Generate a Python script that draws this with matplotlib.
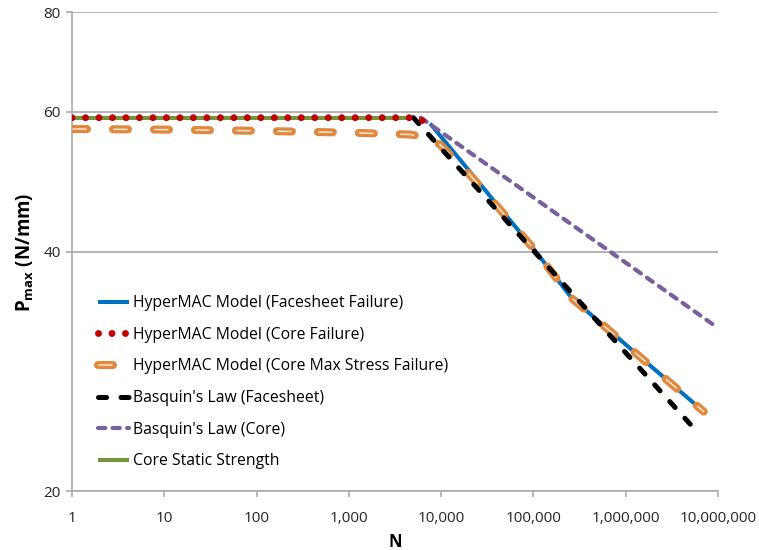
import matplotlib
matplotlib.use("Agg")
import matplotlib.pyplot as plt
from matplotlib.ticker import FixedLocator, FuncFormatter, NullLocator

plt.rcParams['font.family'] = ['Open Sans', 'DejaVu Sans']
plt.rcParams['lines.scale_dashes'] = False
plt.rcParams['mathtext.fontset'] = 'custom'
plt.rcParams['mathtext.rm'] = 'Open Sans'
plt.rcParams['mathtext.bf'] = 'Open Sans:bold'

# cycles N and max load P (N/mm) for each curve
face_N = [7600, 1.0e5, 2.6e5, 7.0e6]
face_P = [58.0, 40.4, 35.0, 25.2]

core_N = [1, 5000, 7600]
core_P = [59.0, 59.0, 58.1]

core_max_N = [1, 10, 100, 1000, 4600, 6700, 9700, 20500, 38300, 1.0e5, 2.6e5, 7.0e6]
core_max_P = [57.1, 57.0, 56.8, 56.5, 56.2, 55.8, 54.6, 50.0, 46.0, 40.4, 35.0, 25.2]

basq_face_N = [5000, 5.0e6]
basq_face_P = [59.0, 24.3]

basq_core_N = [6000, 1.0e7]
basq_core_P = [59.0, 32.1]

static_N = [1, 4600]
static_P = [59.0, 59.0]

x_ticks = [1, 10, 100, 1000, 1e4, 1e5, 1e6, 1e7]
y_ticks = [20, 40, 60, 80]

labels = ["HyperMAC Model (Facesheet Failure)",
          "HyperMAC Model (Core Failure)",
          "HyperMAC Model (Core Max Stress Failure)",
          "Basquin's Law (Facesheet)",
          "Basquin's Law (Core)",
          "Core Static Strength"]

fig = plt.figure(figsize=(7.59, 5.5), dpi=100)
ax = fig.add_axes([0.0949, 0.1064, 0.8511, 0.8709])
ax.set_xscale('log')
ax.set_yscale('log')

l_static, = ax.plot(static_N, static_P, color='#77933C', lw=2.9,
                    solid_capstyle='butt', zorder=2)
l_face, = ax.plot(face_N, face_P, color='#0070C0', lw=2.9,
                  solid_capstyle='butt', zorder=3)
# orange dashes with a pale stripe down the middle
l_cmax = ax.plot(core_max_N, core_max_P, color='#E0893E', lw=5.8,
                 linestyle=(0, (10.8, 18.7)), dash_capstyle='round', zorder=4)[0]
l_cmax_in = ax.plot(core_max_N, core_max_P, color='#FCE6D4', lw=1.1,
                    linestyle=(28.85, (9.5, 20.0)), dash_capstyle='round',
                    zorder=4.1)[0]
l_bface, = ax.plot(basq_face_N, basq_face_P, color='black', lw=3.6,
                   linestyle=(0, (5.8, 10.4)), dash_capstyle='round', zorder=5)
l_bcore, = ax.plot(basq_core_N, basq_core_P, color='#7B5E9E', lw=3.0,
                   linestyle=(0, (5.2, 5.3)), dash_capstyle='round', zorder=5)
l_core, = ax.plot(core_N, core_P, color='#C00000', lw=5.0,
                  linestyle=(0, (0.01, 9.7)), dash_capstyle='round', zorder=6)

ax.set_xlim(1, 1e7)
ax.set_ylim(20, 80)

ax.xaxis.set_major_locator(FixedLocator(x_ticks))
ax.xaxis.set_major_formatter(FuncFormatter(lambda v, p: '{:,.0f}'.format(v)))
ax.xaxis.set_minor_locator(NullLocator())
ax.yaxis.set_major_locator(FixedLocator(y_ticks))
ax.yaxis.set_major_formatter(FuncFormatter(lambda v, p: '{:.0f}'.format(v)))
ax.yaxis.set_minor_locator(NullLocator())

ax.yaxis.grid(True, color='#B3B3B3', lw=1.4)
ax.set_axisbelow(True)
for s in ['top', 'right']:
    ax.spines[s].set_visible(False)
for s in ['left', 'bottom']:
    ax.spines[s].set_color('#A6A6A6')
    ax.spines[s].set_linewidth(1.1)

ax.tick_params(axis='both', direction='out', length=4.3, width=1.1,
               color='#A6A6A6', labelsize=11, labelcolor='#262626')
ax.tick_params(axis='x', pad=10)
ax.tick_params(axis='y', pad=4)

ax.set_xlabel('N', fontsize=12, fontweight='bold')
ax.xaxis.set_label_coords(0.5, -0.087)
ax.set_ylabel(r'$\mathbf{P_{max}}$ (N/mm)', fontsize=13.5, fontweight='bold')
ax.yaxis.set_label_coords(-0.056, 0.5)

handles = [l_face, l_core, (l_cmax, l_cmax_in), l_bface, l_bcore, l_static]
ax.legend(handles, labels, loc='upper left',
          bbox_to_anchor=(98 / 759, 1 - 295 / 550),
          bbox_transform=fig.transFigure, frameon=False, fontsize=11.3,
          handlelength=2.0, handletextpad=0.2, labelspacing=1.0,
          borderaxespad=0, borderpad=0)

fig.savefig('out.png', dpi=100)
